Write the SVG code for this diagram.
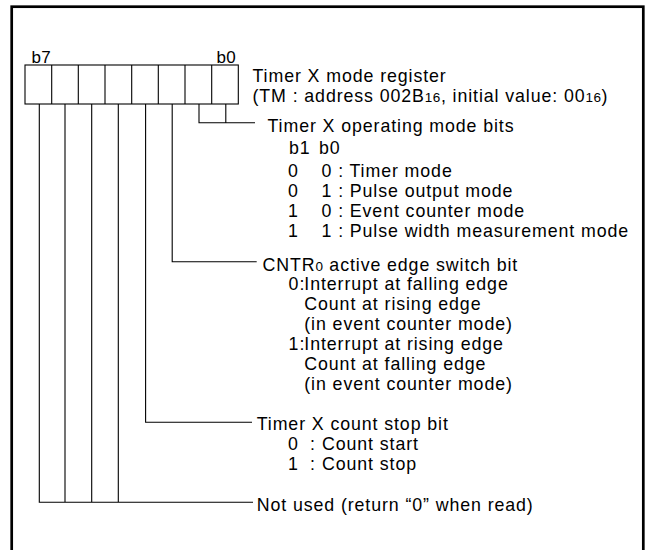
<svg xmlns="http://www.w3.org/2000/svg" width="645" height="550" viewBox="0 0 645 550">
  <style>
    text { font-family: "Liberation Sans", Arial, Helvetica, sans-serif; font-size: 17.8px; letter-spacing: 0.9px; fill: #000; }
    .sub { font-size: 13.5px; letter-spacing: 0.5px; }
    .bit { font-size: 17px; letter-spacing: 0.3px; }
    .ln { fill: none; stroke: #000; stroke-width: 1.1; }
  </style>
  <rect x="0" y="0" width="645" height="550" fill="#fff"/>
  <!-- outer frame -->
  <rect x="11.7" y="6.7" width="631.6" height="560" fill="none" stroke="#000" stroke-width="2.7"/>

  <!-- register cells b7..b0 -->
  <g id="register">
    <text class="bit" x="31.5" y="63">b7</text>
    <text class="bit" x="216.5" y="63">b0</text>
    <rect class="ln" x="25" y="65" width="213.3" height="39"/>
    <path class="ln" d="M51.7 65V104M78.3 65V104M105 65V104M131.7 65V104M158.3 65V104M185 65V104M211.7 65V104"/>
    <text x="252.5" y="82">Timer X mode register</text>
    <text x="252.5" y="101.5">(TM : address 002B<tspan class="sub">16</tspan>, initial value: 00<tspan class="sub">16</tspan>)</text>
  </g>

  <!-- leader lines from each bit -->
  <g id="connectors">
    <path class="ln" d="M199 104V122.7H255M225.8 104V122.7"/>
    <path class="ln" d="M172.2 104V261.7H256.7"/>
    <path class="ln" d="M145.6 104V422.3H252"/>
    <path class="ln" d="M39.3 104V502.3H253M65 104V502.3M91.7 104V502.3M118.3 104V502.3"/>
  </g>

  <g id="mode-bits">
    <text x="267.5" y="131.5">Timer X operating mode bits</text>
    <text y="154"><tspan x="289">b1</tspan><tspan x="319">b0</tspan></text>
    <text y="176.7"><tspan x="288">0</tspan><tspan x="321.5">0 : Timer mode</tspan></text>
    <text y="196.7"><tspan x="288">0</tspan><tspan x="321.5">1 : Pulse output mode</tspan></text>
    <text y="216.7"><tspan x="288">1</tspan><tspan x="321.5">0 : Event counter mode</tspan></text>
    <text y="237"><tspan x="288">1</tspan><tspan x="321.5">1 : Pulse width measurement mode</tspan></text>
  </g>

  <g id="cntr-edge-bit">
    <text x="262.5" y="271">CNTR<tspan class="sub">0</tspan> active edge switch bit</text>
    <text y="290.3"><tspan x="288.5">0</tspan><tspan x="299.6">:</tspan><tspan x="304.3">Interrupt at falling edge</tspan></text>
    <text x="304.3" y="310">Count at rising edge</text>
    <text x="304.3" y="330">(in event counter mode)</text>
    <text y="350"><tspan x="288.5">1</tspan><tspan x="299.6">:</tspan><tspan x="304.3">Interrupt at rising edge</tspan></text>
    <text x="304.3" y="370">Count at falling edge</text>
    <text x="304.3" y="390">(in event counter mode)</text>
  </g>

  <g id="count-stop-bit">
    <text x="256.7" y="430">Timer X count stop bit</text>
    <text y="450"><tspan x="288">0</tspan><tspan x="310">:</tspan><tspan x="322">Count start</tspan></text>
    <text y="470"><tspan x="288">1</tspan><tspan x="310">:</tspan><tspan x="322">Count stop</tspan></text>
  </g>

  <g id="unused-bits">
    <text x="256.7" y="511">Not used (return “0” when read)</text>
  </g>
</svg>
